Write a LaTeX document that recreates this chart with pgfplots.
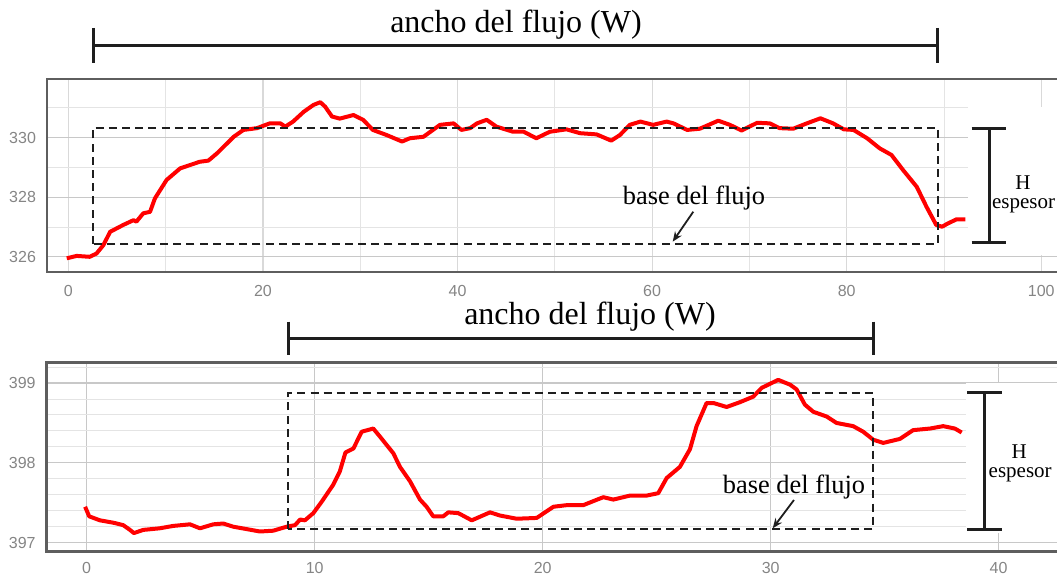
\documentclass[border=0pt]{standalone}
\usepackage{pgfplots}
\pgfplotsset{compat=1.18}
\usetikzlibrary{arrows.meta}
\usepackage{fontspec}
\setmainfont{Liberation Serif}
\newfontfamily\tickfont{Liberation Sans}
\definecolor{framegray}{HTML}{5E5E5E}
\definecolor{labelgray}{HTML}{858585}
\definecolor{gridmajor}{HTML}{C8C8C8}
\definecolor{gridminor}{HTML}{E4E4E4}
\definecolor{profile}{HTML}{FF0000}
\definecolor{ink}{HTML}{1E1E1E}

\tikzset{baseframe/.style={draw=ink, line width=1pt, dash pattern=on 4pt off 2.6pt}}

\pgfplotsset{
  profileaxis/.style={
    anchor=south west, scale only axis,
    grid=both,
    major grid style={draw=gridmajor, line width=0.6pt},
    minor grid style={draw=gridminor, line width=0.5pt},
    axis line style={draw=framegray, line width=1.4pt},
    major tick length=0pt, minor tick length=0pt,
    tick style={draw=none},
    /pgf/number format/assume math mode=true,
    /pgf/number format/1000 sep={},
    ticklabel style={font=\tickfont\fontsize{8}{9}\selectfont, text=labelgray},
    yticklabel style={xshift=-2pt},
  },
}

\begin{document}
\begin{tikzpicture}
\useasboundingbox (0,0) rectangle (528.5pt,292pt);
\clip (0,0) rectangle (528.5pt,292pt);

% upper profile
\begin{axis}[profileaxis,
  at={(23.5pt,156pt)}, width=511.5pt, height=96.5pt,
  xmin=-2.19, xmax=102.95, ymin=325.49, ymax=331.97,
  xtick={0,20,...,100}, minor xtick={10,30,...,90},
  ytick={326,328,330}, minor ytick={327,329,331},
  major x grid style={draw=gridminor!60!gridmajor},
  xticklabel style={yshift=-3pt},
]
\addplot[profile, line width=2pt, line join=round] coordinates {
(-0.16,325.95) (0.86,326.03) (2.2,326.0) (2.9,326.11) (3.6,326.39) (4.3,326.84)
(5.65,327.07) (6.7,327.23) (7.0,327.18) (7.7,327.46) (8.4,327.51) (8.9,327.96)
(10.1,328.58) (11.5,328.97) (12.5,329.08) (13.5,329.19) (14.4,329.23) (15.3,329.48)
(17.0,330.03) (18.0,330.26) (19.4,330.32) (20.7,330.48) (21.8,330.48) (22.3,330.37)
(23.1,330.54) (24.2,330.87) (25.2,331.1) (25.9,331.19) (26.4,331.04) (27.1,330.71)
(27.9,330.64) (29.3,330.76) (30.3,330.6) (31.3,330.26) (32.7,330.09) (34.3,329.87)
(35.1,329.98) (36.5,330.03) (38.2,330.43) (39.6,330.48) (40.4,330.26) (41.3,330.32)
(42.0,330.48) (43.0,330.6) (44.0,330.37) (45.7,330.2) (46.8,330.2) (48.1,329.98)
(49.5,330.2) (51.2,330.28) (52.6,330.15) (54.3,330.11) (55.8,329.9) (56.7,330.09)
(57.7,330.43) (58.8,330.54) (60.1,330.43) (61.5,330.54) (62.2,330.48) (63.6,330.26)
(64.9,330.3) (66.8,330.57) (68.0,330.43) (69.2,330.24) (70.8,330.5) (72.1,330.48)
(73.1,330.32) (74.5,330.3) (75.9,330.48) (77.3,330.65) (78.6,330.48) (79.7,330.28)
(80.7,330.26) (82.1,329.98) (83.4,329.64) (84.6,329.42) (85.8,328.91) (87.2,328.35)
(88.2,327.68) (89.2,327.07) (89.8,327.01) (90.4,327.12) (91.3,327.26) (92.2,327.26)
};
\draw[baseframe] (axis cs:2.57,326.43) rectangle (axis cs:89.4,330.34);
\end{axis}

% lower profile
\begin{axis}[profileaxis,
  at={(23.35pt,16.15pt)}, width=511.65pt, height=94.7pt,
  xmin=-1.754, xmax=43.13, ymin=396.887, ymax=399.26,
  xtick={0,10,...,40},
  ytick={397,398,399}, minor ytick={397.2,397.4,397.6,397.8,398.2,398.4,398.6,398.8,399.2},
  xticklabel style={yshift=-2pt},
]
\addplot[profile, line width=2pt, line join=round] coordinates {
(-0.07,397.45) (0.11,397.33) (0.58,397.28) (1.17,397.25) (1.6,397.22) (1.9,397.16)
(2.07,397.12) (2.48,397.16) (3.2,397.18) (3.8,397.21) (4.53,397.23) (4.97,397.18)
(5.55,397.23) (5.99,397.24) (6.43,397.2) (7.02,397.17) (7.6,397.14) (8.18,397.15)
(8.77,397.2) (9.14,397.22) (9.36,397.29) (9.57,397.28) (9.94,397.37) (10.3,397.51)
(10.8,397.72) (11.1,397.89) (11.35,398.13) (11.7,398.18) (12.06,398.39) (12.57,398.43)
(12.86,398.33) (13.45,398.12) (13.74,397.95) (14.18,397.77) (14.62,397.54) (14.91,397.45)
(15.2,397.33) (15.64,397.33) (15.86,397.38) (16.3,397.37) (16.89,397.28) (17.69,397.38)
(18.13,397.34) (18.86,397.3) (19.74,397.31) (20.47,397.45) (21.05,397.47) (21.78,397.47)
(22.66,397.57) (23.1,397.54) (23.83,397.59) (24.56,397.59) (25.07,397.62) (25.44,397.81)
(26.02,397.95) (26.46,398.17) (26.75,398.46) (27.19,398.75) (27.49,398.75) (28.07,398.7)
(28.65,398.76) (29.24,398.83) (29.61,398.94) (30.33,399.04) (30.85,398.98) (31.14,398.92)
(31.5,398.73) (31.87,398.64) (32.46,398.58) (32.89,398.5) (33.62,398.46) (34.06,398.39)
(34.5,398.29) (34.94,398.25) (35.67,398.3) (36.25,398.41) (36.99,398.43) (37.57,398.46)
(38.08,398.43) (38.38,398.38)
};
\draw[baseframe] (axis cs:8.84,397.17) rectangle (axis cs:34.5,398.875);
\end{axis}

% annotations (coordinates in a 1057 x 584 grid, y downward)
\begin{scope}[x=0.5pt, y=-0.5pt, shift={(0,292pt)}]
  % clear strip holding the thickness markers
  \fill[white] (968,107) rectangle (1060,255);
  \fill[white] (966,383) rectangle (1060,533);

  % upper: width of the flow
  \draw[ink, line width=1.3pt] (93.3,45.7) -- (937.3,45.7);
  \draw[ink, line width=1.3pt] (93.3,28) -- (93.3,63);
  \draw[ink, line width=1.3pt] (937.3,28) -- (937.3,63);
  \node[anchor=base, inner sep=0pt, font=\fontsize{16}{18}\selectfont] at (516,33) {ancho del flujo (W)};

  % upper: base of the flow
  \node[anchor=base, inner sep=0pt, font=\fontsize{13.2}{15}\selectfont] at (694,205) {base del flujo};
  \draw[ink, line width=0.9pt, -{Stealth[length=5pt,width=4pt]}] (693.3,211.7) -- (672.7,241.7);

  % upper: thickness
  \draw[ink, line width=1.5pt] (989,129) -- (989,243);
  \draw[ink, line width=1.5pt] (971.7,129) -- (1006,129);
  \draw[ink, line width=1.5pt] (971.7,243) -- (1006,243);
  \node[anchor=base, inner sep=0pt, font=\fontsize{10.5}{12}\selectfont] at (1023,190) {H};
  \node[anchor=base west, inner sep=0pt, font=\fontsize{10.5}{12}\selectfont] at (991.7,208.3) {espesor};

  % lower: width of the flow
  \draw[ink, line width=1.3pt] (288.3,338.3) -- (873.3,338.3);
  \draw[ink, line width=1.3pt] (288.3,321.7) -- (288.3,355);
  \draw[ink, line width=1.3pt] (873.3,321.7) -- (873.3,355);
  \node[anchor=base, inner sep=0pt, font=\fontsize{16}{18}\selectfont] at (590,325) {ancho del flujo (W)};

  % lower: base of the flow
  \node[anchor=base, inner sep=0pt, font=\fontsize{13.2}{15}\selectfont] at (794,493.3) {base del flujo};
  \draw[ink, line width=0.9pt, -{Stealth[length=5pt,width=4pt]}] (794,500) -- (772.7,528.3);

  % lower: thickness
  \draw[ink, line width=1.5pt] (984,393) -- (984,530);
  \draw[ink, line width=1.5pt] (967,393) -- (1002,393);
  \draw[ink, line width=1.5pt] (967,530) -- (1002,530);
  \node[anchor=base, inner sep=0pt, font=\fontsize{10.5}{12}\selectfont] at (1019.3,458.3) {H};
  \node[anchor=base west, inner sep=0pt, font=\fontsize{10.5}{12}\selectfont] at (988.3,477.3) {espesor};
\end{scope}
\end{tikzpicture}
\end{document}
